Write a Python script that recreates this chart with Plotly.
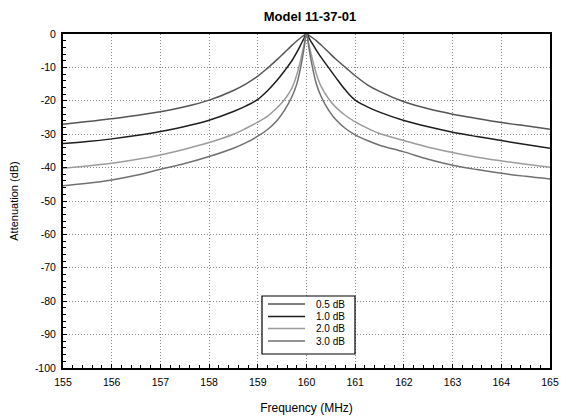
import plotly.graph_objects as go

freq = [155, 155.5, 156, 156.5, 157, 157.5, 158, 158.5, 158.75, 159, 159.2, 159.4, 159.55,
        159.7, 159.8, 159.9, 159.95, 160, 160.05, 160.1, 160.2, 160.3, 160.45, 160.6, 160.8,
        161, 161.25, 161.5, 162, 162.5, 163, 163.5, 164, 164.5, 165]

att_05 = [-27.0, -26.2, -25.4, -24.4, -23.3, -21.8, -19.8, -16.9, -15.0, -12.6, -10.2, -7.6, -5.5,
          -3.4, -2.1, -0.9, -0.4, 0,
          -0.4, -0.9, -2.0, -3.3, -5.4, -7.5, -10.0, -12.5, -15.2, -17.2, -20.3, -22.4, -24.0,
          -25.3, -26.5, -27.5, -28.5]
att_10 = [-32.8, -32.2, -31.4, -30.4, -29.2, -27.7, -25.8, -23.2, -21.6, -19.6, -17.0, -13.8, -11.0,
          -8.0, -5.5, -2.7, -1.3, 0,
          -1.2, -2.4, -4.8, -7.0, -10.0, -13.0, -16.8, -19.8, -21.8, -23.4, -25.9, -27.8, -29.4,
          -30.7, -31.9, -33.1, -34.2]
att_20 = [-40.2, -39.5, -38.7, -37.6, -36.2, -34.5, -32.5, -30.0, -28.3, -26.4, -24.6, -22.0, -19.6,
          -16.2, -12.2, -6.5, -3.2, 0,
          -3.2, -6.3, -11.8, -15.7, -19.3, -21.9, -24.4, -26.3, -28.2, -29.8, -31.9, -33.9, -35.5,
          -36.9, -38.0, -39.0, -39.9]
att_30 = [-45.4, -44.7, -43.7, -42.3, -40.5, -38.8, -36.7, -34.2, -32.6, -30.6, -28.6, -25.8, -22.8,
          -18.8, -15.0, -8.5, -4.2, 0,
          -4.2, -8.3, -14.8, -18.7, -22.7, -25.6, -28.3, -30.2, -31.9, -33.3, -35.3, -37.5, -39.3,
          -40.6, -41.7, -42.6, -43.4]

series_names = ["0.5 dB", "1.0 dB", "2.0 dB", "3.0 dB"]
series_vals = [att_05, att_10, att_20, att_30]
series_colors = ["#555555", "#1e1e1e", "#9c9c9c", "#717171"]

x_ticks = [155, 156, 157, 158, 159, 160, 161, 162, 163, 164, 165]
y_ticks = [0, -10, -20, -30, -40, -50, -60, -70, -80, -90, -100]

# figure geometry (the page body adds an 8px offset)
W, H = 564, 411
ML, MR, MT, MB = 55, 22, 26, 51
PW, PH = W - ML - MR, H - MT - MB

def px(xp):
    return (xp - ML) / PW

def py(yp):
    return (H - MB - yp) / PH

fig = go.Figure()
for name, vals, col in zip(series_names, series_vals, series_colors):
    fig.add_trace(go.Scatter(x=freq, y=vals, mode="lines", name=name, showlegend=False,
                             line=dict(color=col, width=1.5, shape="spline", smoothing=1.0)))

# compact legend box, like the reference
shapes = [dict(type="rect", xref="paper", yref="paper", x0=px(254), x1=px(347),
               y0=py(346), y1=py(288), line=dict(color="black", width=1.2),
               fillcolor="white", layer="above")]
annotations = []
row_y = [296, 308.5, 320.5, 333]
for name, col, ry in zip(series_names, series_colors, row_y):
    shapes.append(dict(type="line", xref="paper", yref="paper", x0=px(260), x1=px(297),
                       y0=py(ry), y1=py(ry), line=dict(color=col, width=1.5), layer="above"))
    annotations.append(dict(text=name, xref="paper", yref="paper", x=px(339), y=py(ry),
                            xanchor="right", yanchor="middle", showarrow=False,
                            font=dict(size=10, color="black")))

font_family = "Liberation Sans, Arial, sans-serif"
fig.update_layout(
    width=W, height=H,
    margin=dict(l=ML, r=MR, t=MT, b=MB),
    paper_bgcolor="white", plot_bgcolor="white",
    font=dict(family=font_family, size=11, color="black"),
    title=dict(text="<b>Model 11-37-01</b>", x=302 / W, xanchor="center", y=1 - 8 / H,
               yanchor="middle", font=dict(size=13, family=font_family, color="black")),
    showlegend=False,
    shapes=shapes,
    annotations=annotations,
)
fig.update_xaxes(
    range=[155, 165], tickvals=x_ticks, ticktext=[str(v) for v in x_ticks],
    showline=True, mirror=True, linecolor="black", linewidth=2,
    showgrid=True, gridcolor="#8a8a8a", gridwidth=1, griddash="1px,2px",
    ticks="inside", ticklen=4, tickcolor="black", ticklabelstandoff=3,
    minor=dict(dtick=0.2, ticks="inside", ticklen=3, tickcolor="black", showgrid=False),
    zeroline=False, automargin=False,
    title=dict(text="Frequency (MHz)", font=dict(size=12), standoff=17),
    tickfont=dict(size=10.5),
)
fig.update_yaxes(
    range=[-100, 0], tickvals=y_ticks, ticktext=[str(v) for v in y_ticks],
    showline=True, mirror=True, linecolor="black", linewidth=2,
    showgrid=True, gridcolor="#8a8a8a", gridwidth=1, griddash="1px,2px",
    ticks="inside", ticklen=4, tickcolor="black", ticklabelstandoff=3,
    minor=dict(dtick=2, ticks="inside", ticklen=3, tickcolor="black", showgrid=False),
    zeroline=False, automargin=False,
    title=dict(text="Attenuation (dB)", font=dict(size=11), standoff=22),
    tickfont=dict(size=10.5),
)
fig.write_html("out.html")
